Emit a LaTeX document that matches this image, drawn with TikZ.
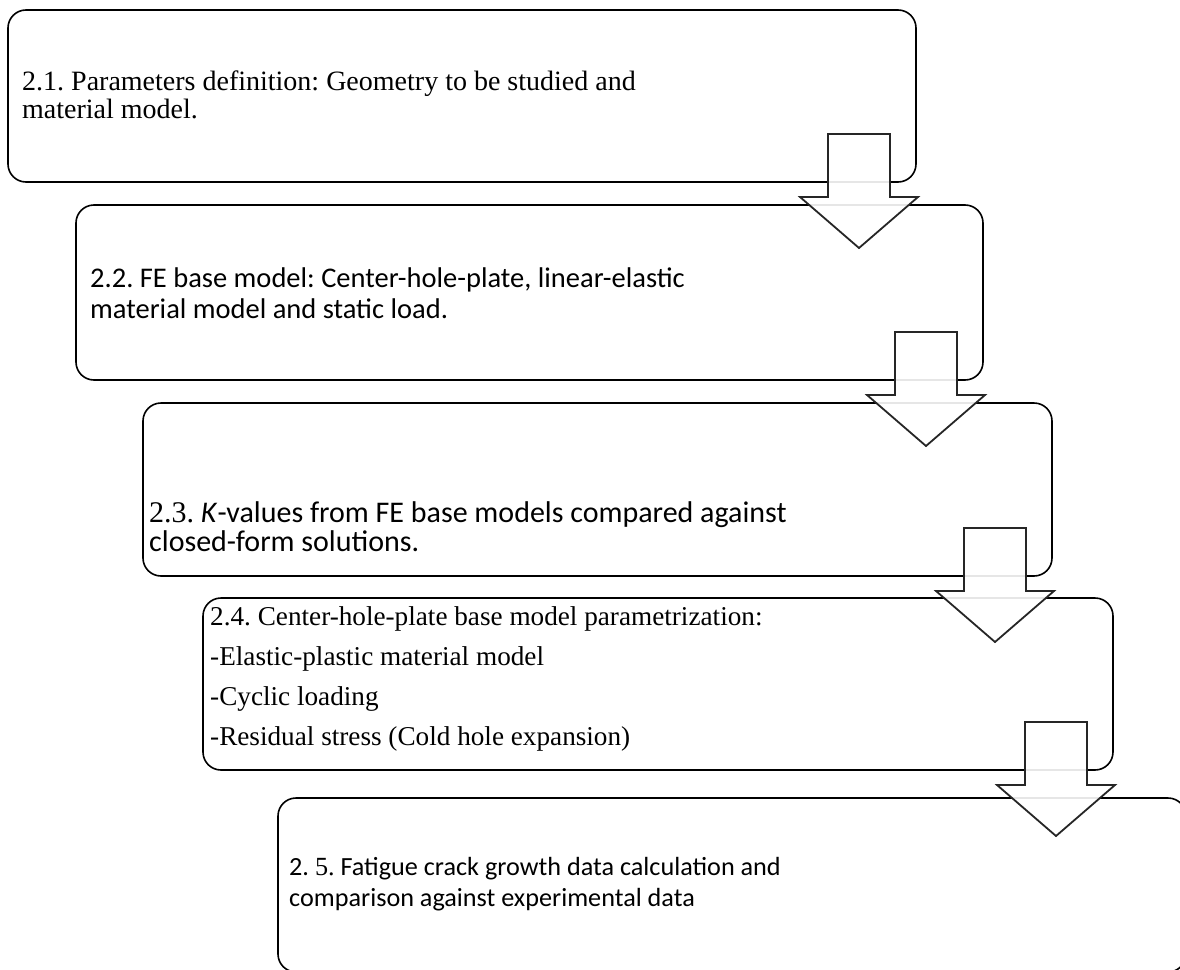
\documentclass[tikz,border=0pt]{standalone}
\usepackage{fontspec}
\setmainfont{Liberation Serif}
\newfontfamily\calfont{Carlito}
\usetikzlibrary{calc}

\tikzset{
	stage/.style={draw, line width=1.6pt, rounded corners=18pt, outer sep=0pt, inner sep=0pt},
	stagetext/.style={anchor=north west, inner sep=0pt, align=left},
	blockarrow/.style={draw=black!85, line width=1.8pt, fill=white, fill opacity=0.9, line join=miter}
}

\begin{document}
\frenchspacing
\begin{tikzpicture}[x=1pt,y=-1pt]
		\useasboundingbox (0,0) rectangle (1180,969);

		% the five stages
		\node[stage, minimum width=908pt, minimum height=172pt] (b1) at (462,96) {};
		\node[stage, minimum width=907pt, minimum height=175pt] (b2) at (529.5,292.5) {};
		\node[stage, minimum width=909pt, minimum height=173pt] (b3) at (597.5,489.5) {};
		\node[stage, minimum width=910pt, minimum height=172pt] (b4) at (658,684) {};
		\node[stage, minimum width=908pt, minimum height=174pt] (b5) at (732,885) {};

		\node[stagetext, font=\fontsize{28}{28}\selectfont] (t1) at ($(b1.north west)+(14,61)$)
			{2.1. Parameters definition: Geometry to be studied and\\material model.};
		\node[stagetext, font=\calfont\fontsize{28.5}{31}\selectfont] (t2) at ($(b2.north west)+(14,63)$)
			{2.2. FE base model: Center-hole-plate, linear-elastic\\material model and static load.};
		\node[stagetext, font=\calfont\fontsize{30}{29}\selectfont] (t3) at ($(b3.north west)+(6,98)$)
			{{\rmfamily 2.3.} \textit{K}-values from FE base models compared against\\closed-form solutions.};
		\node[stagetext, font=\fontsize{27.2}{40}\selectfont] (t4) at ($(b4.north west)+(7,8)$)
			{2.4. Center-hole-plate base model parametrization:\\-Elastic-plastic material model\\-Cyclic loading\\-Residual stress (Cold hole expansion)};
		\node[stagetext, font=\calfont\fontsize{26.2}{31}\selectfont] (t5) at ($(b5.north west)+(11,59)$)
			{2. {\rmfamily 5.} Fatigue crack growth data calculation and\\comparison against experimental data};

		% block arrows between the stages
		\draw[blockarrow] ($(b1.south east)+(-88,-48)$) -- ++(62,0) -- ++(0,63) -- ++(28,0) -- ++(-59,51) -- ++(-59,-51) -- ++(28,0) -- cycle;
		\draw[blockarrow] ($(b2.south east)+(-88,-48)$) -- ++(62,0) -- ++(0,63) -- ++(28,0) -- ++(-59,51) -- ++(-59,-51) -- ++(28,0) -- cycle;
		\draw[blockarrow] ($(b3.south east)+(-88,-48)$) -- ++(62,0) -- ++(0,63) -- ++(28,0) -- ++(-59,51) -- ++(-59,-51) -- ++(28,0) -- cycle;
		\draw[blockarrow] ($(b4.south east)+(-88,-48)$) -- ++(62,0) -- ++(0,63) -- ++(28,0) -- ++(-59,51) -- ++(-59,-51) -- ++(28,0) -- cycle;
	\end{tikzpicture}
\end{document}
